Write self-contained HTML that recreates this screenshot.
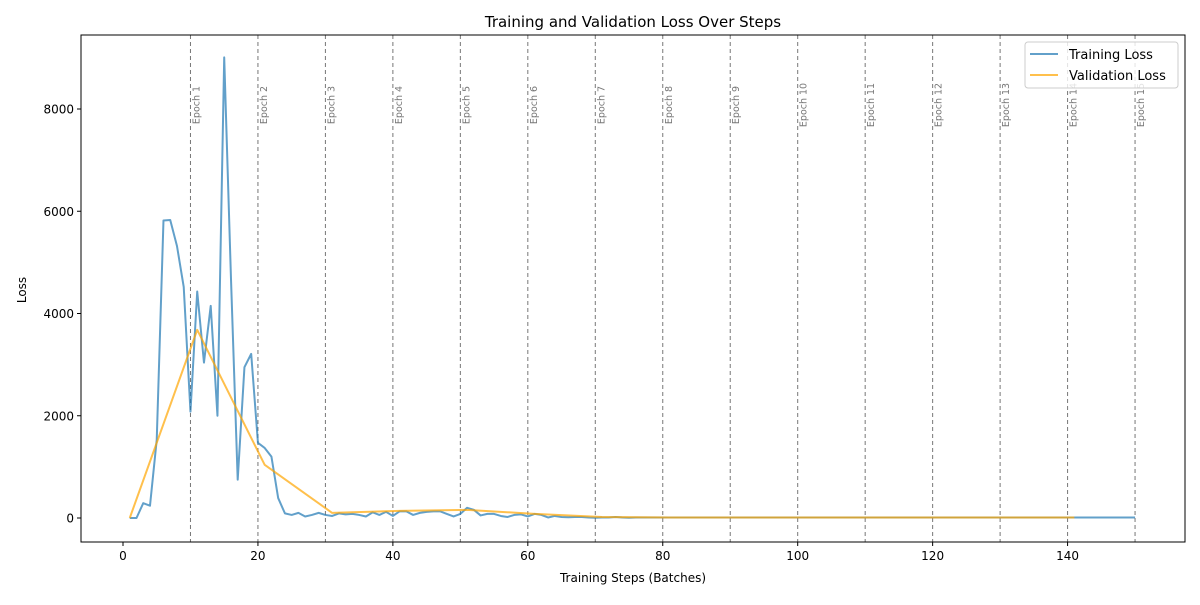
<!DOCTYPE html>
<html><head><meta charset="utf-8"><style>
body{margin:0;background:#fff;}
svg text{font-family:"DejaVu Sans","Liberation Sans",sans-serif;}
</style></head><body>
<svg id="chart" width="1200" height="600" xmlns="http://www.w3.org/2000/svg">
<rect width="1200" height="600" fill="#fff"/>
<text x="633" y="27" font-size="15" text-anchor="middle">Training and Validation Loss Over Steps</text>
<g id="grid"></g>
<g id="series"></g>
<rect x="81" y="35" width="1104" height="507" fill="none" stroke="#000" stroke-width="1"/>
<g id="ticks"></g>
<text x="633" y="582" font-size="12" text-anchor="middle">Training Steps (Batches)</text>
<text x="0" y="0" font-size="12" text-anchor="middle" transform="translate(26,290) rotate(-90)">Loss</text>
<g>
<rect x="1025" y="42" width="153" height="46" rx="3" fill="#fff" fill-opacity="0.8" stroke="#ccc"/>
<line x1="1030" y1="54" x2="1058" y2="54" stroke="#1f77b4" stroke-opacity="0.7" stroke-width="2"/>
<text x="1069" y="59" font-size="13">Training Loss</text>
<line x1="1030" y1="75" x2="1058" y2="75" stroke="#ffa500" stroke-opacity="0.7" stroke-width="2"/>
<text x="1069" y="80" font-size="13">Validation Loss</text>
</g>
</svg>
<script>
const trainLoss=[0,0,290,240,1530,5820,5830,5320,4520,2080,4430,3040,4150,2000,9010,4700,750,2950,3210,1470,1370,1200,390,90,60,100,30,60,100,60,40,90,70,80,60,30,110,60,120,40,130,130,60,100,120,130,130,80,30,80,200,160,50,80,80,40,20,60,70,30,80,60,10,40,20,15,20,20,10,5,10,10,20,10,5,10,10,10,10,10,10,10,10,10,10,10,10,10,10,10,10,10,10,10,10,10,10,10,10,10,10,10,10,10,10,10,10,10,10,10,10,10,10,10,10,10,10,10,10,10,10,10,10,10,10,10,10,10,10,10,10,10,10,10,10,10,10,10,10,10,10,10,10,10,10,10,10,10,10,10];
const valSteps=[1,11,21,31,41,51,61,71,81,91,101,111,121,131,141];
const valLoss=[0,3680,1040,100,140,160,80,20,10,10,10,10,10,10,10];
const epochSteps=[10,20,30,40,50,60,70,80,90,100,110,120,130,140,150];
const xTicks=[0,20,40,60,80,100,120,140];
const yTicks=[0,2000,4000,6000,8000];
const NS="http://www.w3.org/2000/svg";
const X=v=>123+v*6.747, Y=v=>518-v*0.051125;
function mk(t,a,p){const e=document.createElementNS(NS,t);for(const k in a)e.setAttribute(k,a[k]);p.appendChild(e);return e;}
const grid=document.getElementById('grid'),ser=document.getElementById('series'),tk=document.getElementById('ticks');
epochSteps.forEach((s,i)=>{
 const l=mk('line',{x1:X(s),x2:X(s),y1:35,y2:542,stroke:'#777','stroke-dasharray':'4,3','stroke-width':1},grid);
 
 
 const t=mk('text',{x:0,y:0,'font-size':9.5,fill:'#777','text-anchor':'middle',transform:`translate(${X(s)+9},105) rotate(-90)`},grid);
 t.textContent='Epoch '+(i+1);
 
 
});
const tp=mk('polyline',{points:trainLoss.map((v,i)=>X(i+1)+','+Y(v)).join(' '),fill:'none',stroke:'#1f77b4','stroke-opacity':0.7,'stroke-width':2,'stroke-linejoin':'round'},ser);


const vp=mk('polyline',{points:valLoss.map((v,i)=>X(valSteps[i])+','+Y(v)).join(' '),fill:'none',stroke:'#ffa500','stroke-opacity':0.7,'stroke-width':2,'stroke-linejoin':'round'},ser);


xTicks.forEach(v=>{
 mk('line',{x1:X(v),x2:X(v),y1:542,y2:546,stroke:'#000'},tk);
 const t=mk('text',{x:X(v),y:560,'font-size':12,'text-anchor':'middle'},tk);t.textContent=v;
 
 
});
yTicks.forEach(v=>{
 mk('line',{x1:77,x2:81,y1:Y(v),y2:Y(v),stroke:'#000'},tk);
 const t=mk('text',{x:74,y:Y(v)+4.5,'font-size':12,'text-anchor':'end'},tk);t.textContent=v;
 
 
});
</script>
</body></html>
